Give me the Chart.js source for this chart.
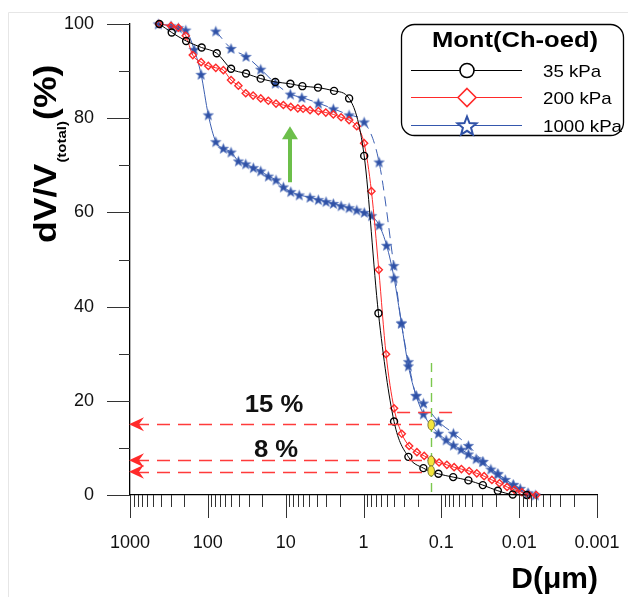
<!DOCTYPE html>
<html>
<head>
<meta charset="utf-8">
<title>Mont(Ch-oed)</title>
<script src="https://cdn.jsdelivr.net/npm/chart.js@4.4.1/dist/chart.umd.min.js"></script>
<style>
    html, body { margin: 0; padding: 0; background: #fff; }
    #wrap { width: 628px; height: 597px; }
</style>
</head>
<body>
<div id="wrap"><canvas id="poreChart" width="628" height="597"></canvas></div>
<script>
// pore diameter D (um) against cumulative dV/V(total) (%)
const d35 = [420, 291, 190, 120, 76.8, 50.3, 32.3, 20.9, 13.6, 8.7, 6.1, 3.84, 2.39, 1.53, 0.98, 0.643, 0.405, 0.265, 0.170, 0.109, 0.0705, 0.0449, 0.0293, 0.0188, 0.0121, 0.0080];
const v35 = [100, 98.2, 96.4, 95.0, 93.8, 90.5, 89.5, 88.4, 87.7, 87.3, 86.8, 86.5, 85.8, 84.2, 72.0, 38.6, 15.6, 8.1, 5.7, 4.5, 3.8, 3.1, 2.1, 0.9, 0.1, 0];

const d200 = [424, 297, 239, 192, 156, 122, 98.6, 79, 63.2, 50.3, 40.5, 32.6, 26.2, 20.9, 16.7, 13.3, 10.7, 8.6, 6.98, 5.97, 4.86, 3.80, 3.05, 2.44, 1.94, 1.53, 1.22, 0.982, 0.791, 0.636, 0.513, 0.405, 0.322, 0.259, 0.206, 0.166, 0.132, 0.107, 0.0849, 0.0685, 0.0552, 0.0439, 0.035, 0.0282, 0.0224, 0.0179, 0.0143, 0.0115, 0.00923, 0.00744, 0.00604];
const v200 = [100, 99.6, 99.2, 97.5, 93.4, 91.9, 91.1, 90.7, 90.2, 88.1, 86.9, 85.3, 84.8, 84.2, 83.7, 83.1, 82.8, 82.4, 82.1, 82.0, 81.7, 81.5, 81.2, 80.8, 80.2, 79.6, 78.3, 74.7, 64.5, 47.8, 29.9, 18.4, 13.0, 10.4, 9.1, 8.3, 7.4, 6.9, 6.4, 5.9, 5.5, 5.1, 4.6, 4.0, 3.2, 2.5, 1.7, 1.1, 0.6, 0, 0];

const d1000 = [433, 297, 239, 192, 150, 122, 98.6, 79, 63.2, 50.3, 40.5, 32.6, 26.0, 20.9, 16.7, 13.3, 10.7, 8.6, 6.7, 4.86, 3.80, 3.03, 2.44, 1.94, 1.53, 1.22, 0.977, 0.787, 0.631, 0.505, 0.405, 0.326, 0.265, 0.211, 0.170, 0.109, 0.0867, 0.070, 0.0557, 0.0449, 0.0357, 0.0293, 0.0231, 0.0188, 0.0151, 0.0119, 0.0097, 0.0077, 0.0062];
const v1000 = [100, 99.6, 99.2, 98.7, 94.6, 89.3, 80.7, 75.0, 73.6, 72.8, 70.9, 70.3, 69.5, 68.8, 67.7, 66.9, 65.4, 64.4, 63.7, 63.2, 62.7, 62.3, 61.9, 61.4, 61.0, 60.5, 60.0, 59.3, 57.3, 53.0, 46.1, 36.5, 27.4, 21.1, 17.2, 13.1, 11.7, 10.6, 9.7, 8.7, 7.7, 7.1, 5.5, 4.5, 3.3, 2.2, 1.4, 0.4, 0];

// second (dashed) 1000 kPa branch
const d1000b = [79, 50.3, 32.3, 20.9, 13.6, 8.7, 6.2, 3.80, 2.44, 1.53, 0.98, 0.631, 0.408, 0.326, 0.265, 0.211, 0.170, 0.109, 0.070, 0.0449, 0.0293, 0.0188, 0.0119, 0.0077];
const v1000b = [98.5, 94.8, 93.1, 90.4, 87.4, 85.1, 84.4, 83.2, 82.0, 80.7, 79.2, 70.7, 48.7, 36.5, 28.3, 21.1, 19.5, 15.6, 13.1, 10.5, 7.1, 4.5, 2.2, 0.4];

const xTicks = [1000, 100, 10, 1, 0.1, 0.01, 0.001];
const yTicks = [0, 20, 40, 60, 80, 100];
const seriesNames = ['35 kPa', '200 kPa', '1000 kPa'];
const legendTitle = 'Mont(Ch-oed)';

// annotation values, in data units
const arrowLevels = [15, 7.4, 4.95];
const arrowEndD = 0.145;
const markD = 0.135;
const markLevels = [14.9, 7.2, 5.1];
const cutLine = { from: 0.37, to: 0.06, level: 17.7 };
const greenCol = { d: 0.135, from: 28, to: 0 };
const greenArrow = { d: 8.8, from: 66.4, to: 78.3 };
const pctNotes = [{ text: '15 %', d: 14.1, v: 17.6 }, { text: '8 %', d: 13.3, v: 8.1 }];

const FONT = '"Liberation Sans", Arial, Helvetica, sans-serif';
const BLUE = '#2f51a6';
const RED = '#ff2a2a';

function starPath(g, cx, cy, R, r) {
    g.beginPath();
    for (let i = 0; i < 10; i++) {
        const a = -Math.PI / 2 + i * Math.PI / 5;
        const rad = i % 2 ? r : R;
        const px = cx + rad * Math.cos(a), py = cy + rad * Math.sin(a);
        i ? g.lineTo(px, py) : g.moveTo(px, py);
    }
    g.closePath();
}

function starImage(R, r, fill) {
    const size = Math.ceil(R * 2 + 2);
    const c = document.createElement('canvas');
    c.width = size; c.height = size;
    const g = c.getContext('2d');
    starPath(g, size / 2, size / 2 + R * 0.1, R, r);
    g.fillStyle = fill;
    g.fill();
    g.lineWidth = 0.6;
    g.strokeStyle = '#5a78c0';
    g.stroke();
    return c;
}

const toPts = (ds, vs) => ds.map((d, i) => ({ x: d, y: vs[i] }));

function roundBox(ctx, x, y, w, h, r) {
    ctx.beginPath();
    ctx.moveTo(x + r, y);
    ctx.arcTo(x + w, y, x + w, y + h, r);
    ctx.arcTo(x + w, y + h, x, y + h, r);
    ctx.arcTo(x, y + h, x, y, r);
    ctx.arcTo(x, y, x + w, y, r);
    ctx.closePath();
}

// text that is a little wider than the installed Arial metrics
function wideText(ctx, text, x, y, sx, align) {
    ctx.save();
    ctx.translate(x, y);
    ctx.scale(sx, 1);
    ctx.textAlign = align;
    ctx.fillText(text, 0, 0);
    ctx.restore();
}

function drawAxisTicks(chart) {
    const { ctx, chartArea, scales: { x, y } } = chart;
    ctx.save();
    ctx.strokeStyle = '#333';
    ctx.lineWidth = 1;
    ctx.beginPath();
    for (let e = -3; e <= 3; e++) {
        const px = Math.round(x.getPixelForValue(Math.pow(10, e))) + 0.5;
        ctx.moveTo(px, chartArea.bottom); ctx.lineTo(px, chartArea.bottom + 23);
        if (e === 3) continue;
        for (let k = 2; k <= 9; k++) {
            const pm = Math.round(x.getPixelForValue(k * Math.pow(10, e))) + 0.5;
            ctx.moveTo(pm, chartArea.bottom); ctx.lineTo(pm, chartArea.bottom + 12);
        }
    }
    yTicks.forEach((v, i) => {
        const py = Math.round(y.getPixelForValue(v)) + 0.5;
        ctx.moveTo(chartArea.left - 23, py); ctx.lineTo(chartArea.left, py);
        if (i < yTicks.length - 1) {
            const pm = Math.round(y.getPixelForValue((v + yTicks[i + 1]) / 2)) + 0.5;
            ctx.moveTo(chartArea.left - 11, pm); ctx.lineTo(chartArea.left, pm);
        }
    });
    ctx.stroke();
    ctx.restore();
}

function drawNotes(chart) {
    const { ctx, chartArea, scales: { x, y } } = chart;
    const left = chartArea.left;
    ctx.save();

    // red leaders back to the axis
    ctx.strokeStyle = '#ff3b3b';
    ctx.lineWidth = 1.3;
    ctx.setLineDash([13, 8]);
    ctx.beginPath();
    arrowLevels.forEach(v => {
        const py = Math.round(y.getPixelForValue(v)) + 0.5;
        ctx.moveTo(left + 6, py);
        ctx.lineTo(x.getPixelForValue(arrowEndD), py);
    });
    const cy = Math.round(y.getPixelForValue(cutLine.level)) + 0.5;
    ctx.moveTo(x.getPixelForValue(cutLine.from), cy);
    ctx.lineTo(x.getPixelForValue(cutLine.to), cy);
    ctx.stroke();
    ctx.setLineDash([]);
    ctx.fillStyle = RED;
    arrowLevels.forEach(v => {
        const py = y.getPixelForValue(v);
        ctx.beginPath();
        ctx.moveTo(left - 1, py);
        ctx.lineTo(left + 14, py - 7);
        ctx.lineTo(left + 9, py);
        ctx.lineTo(left + 14, py + 7);
        ctx.closePath();
        ctx.fill();
    });

    // green dashed marker line
    ctx.strokeStyle = '#7cc84e';
    ctx.lineWidth = 1.4;
    ctx.setLineDash([9, 6]);
    const gx = Math.round(x.getPixelForValue(greenCol.d)) + 0.5;
    ctx.beginPath();
    ctx.moveTo(gx, y.getPixelForValue(greenCol.from));
    ctx.lineTo(gx, y.getPixelForValue(greenCol.to));
    ctx.stroke();
    ctx.setLineDash([]);

    // yellow marks
    ctx.fillStyle = '#f4e53c';
    ctx.strokeStyle = '#5c5a2a';
    ctx.lineWidth = 0.8;
    markLevels.forEach(v => {
        ctx.beginPath();
        ctx.ellipse(x.getPixelForValue(markD), y.getPixelForValue(v), 3.3, 5.2, 0, 0, Math.PI * 2);
        ctx.fill();
        ctx.stroke();
    });

    // green arrow
    const ax = x.getPixelForValue(greenArrow.d);
    const tip = y.getPixelForValue(greenArrow.to);
    ctx.strokeStyle = '#6cbf4a';
    ctx.fillStyle = '#6cbf4a';
    ctx.lineWidth = 4;
    ctx.beginPath();
    ctx.moveTo(ax, y.getPixelForValue(greenArrow.from));
    ctx.lineTo(ax, tip + 10);
    ctx.stroke();
    ctx.beginPath();
    ctx.moveTo(ax, tip);
    ctx.lineTo(ax + 8, tip + 13);
    ctx.lineTo(ax - 8, tip + 13);
    ctx.closePath();
    ctx.fill();

    ctx.fillStyle = '#111';
    ctx.font = `bold 24px ${FONT}`;
    pctNotes.forEach(n => wideText(ctx, n.text, x.getPixelForValue(n.d), y.getPixelForValue(n.v), 1.07, 'center'));
    ctx.restore();
}

function drawTitles(ctx) {
    ctx.save();
    ctx.fillStyle = '#000';
    ctx.textAlign = 'left';
    ctx.textBaseline = 'alphabetic';
    ctx.translate(56, 243);
    ctx.rotate(-Math.PI / 2);
    ctx.scale(1.15, 1);
    ctx.font = `bold 31px ${FONT}`;
    ctx.fillText('dV/V', 0, 0);
    let w = ctx.measureText('dV/V').width + 1;
    ctx.font = `bold 13px ${FONT}`;
    ctx.fillText('(total)', w, 10);
    w += ctx.measureText('(total)').width + 1;
    ctx.font = `bold 31px ${FONT}`;
    ctx.fillText('(%)', w, 0);
    ctx.restore();

    ctx.save();
    ctx.fillStyle = '#000';
    ctx.font = `bold 30px ${FONT}`;
    ctx.textAlign = 'right';
    ctx.fillText('D(\u03bcm)', 598, 588);
    ctx.restore();
}

function drawLegend(ctx, markers) {
    ctx.save();
    ctx.fillStyle = '#fff';
    ctx.strokeStyle = '#000';
    ctx.lineWidth = 1.3;
    roundBox(ctx, 401.5, 24.5, 222, 111, 13);
    ctx.fill();
    ctx.stroke();

    ctx.fillStyle = '#000';
    ctx.font = `bold 21.5px ${FONT}`;
    wideText(ctx, legendTitle, 515, 47, 1.19, 'center');

    const rows = [70, 97, 125];
    const cols = ['#000', RED, '#3557ad'];
    rows.forEach((ry, i) => {
        ctx.strokeStyle = cols[i];
        ctx.lineWidth = 1;
        ctx.beginPath();
        ctx.moveTo(411, ry + 0.5);
        ctx.lineTo(522, ry + 0.5);
        ctx.stroke();
        markers[i](ctx, 467, ry + 0.5);
        ctx.fillStyle = '#000';
        ctx.font = `17px ${FONT}`;
        wideText(ctx, seriesNames[i], 543, ry + 6.5, 1.1, 'left');
    });
    ctx.restore();
}

const legendMarkers = [
    (ctx, mx, my) => {
        ctx.beginPath(); ctx.arc(mx, my, 7, 0, Math.PI * 2);
        ctx.fillStyle = '#fff'; ctx.fill();
        ctx.strokeStyle = '#000'; ctx.lineWidth = 1.6; ctx.stroke();
    },
    (ctx, mx, my) => {
        ctx.beginPath();
        ctx.moveTo(mx, my - 9); ctx.lineTo(mx + 9, my); ctx.lineTo(mx, my + 9); ctx.lineTo(mx - 9, my);
        ctx.closePath();
        ctx.fillStyle = '#fff'; ctx.fill();
        ctx.strokeStyle = RED; ctx.lineWidth = 1.6; ctx.stroke();
    },
    (ctx, mx, my) => {
        starPath(ctx, mx, my + 1, 10, 4.3);
        ctx.fillStyle = '#fff'; ctx.fill();
        ctx.strokeStyle = BLUE; ctx.lineWidth = 2; ctx.stroke();
    }
];

const decorations = {
    id: 'decorations',
    beforeDraw(chart) {
        const ctx = chart.ctx;
        ctx.save();
        ctx.fillStyle = '#fff';
        ctx.fillRect(0, 0, chart.width, chart.height);
        ctx.strokeStyle = '#e6e6e6';
        ctx.lineWidth = 1;
        ctx.beginPath();
        ctx.moveTo(8.5, chart.height); ctx.lineTo(8.5, 12.5); ctx.lineTo(chart.width, 12.5);
        ctx.stroke();
        ctx.restore();
    },
    afterDatasetsDraw(chart) {
        drawNotes(chart);
    },
    afterDraw(chart) {
        drawAxisTicks(chart);
        drawTitles(chart.ctx);
        drawLegend(chart.ctx, legendMarkers);
    }
};

const starPt = starImage(5.4, 2.3, BLUE);
const tickFont = { family: FONT, size: 18 };
const clear = 'rgba(0,0,0,0)';

new Chart(document.getElementById('poreChart'), {
    type: 'line',
    data: {
        datasets: [{
            label: seriesNames[0],
            data: toPts(d35, v35),
            borderColor: '#000',
            borderWidth: 1,
            pointStyle: 'circle',
            pointRadius: 3.5,
            pointBorderWidth: 1.4,
            pointBorderColor: '#000',
            pointBackgroundColor: clear,
            cubicInterpolationMode: 'monotone',
            clip: false
        }, {
            label: seriesNames[1],
            data: toPts(d200, v200),
            borderColor: RED,
            borderWidth: 1,
            pointStyle: 'rectRot',
            pointRadius: 3.6,
            pointBorderWidth: 1.4,
            pointBorderColor: RED,
            pointBackgroundColor: clear,
            cubicInterpolationMode: 'monotone',
            clip: false
        }, {
            label: seriesNames[2],
            data: toPts(d1000, v1000),
            borderColor: '#3c5fb2',
            borderWidth: 1,
            pointStyle: starPt,
            cubicInterpolationMode: 'monotone',
            clip: false
        }, {
            label: seriesNames[2] + ' (b)',
            data: toPts(d1000b, v1000b),
            borderColor: '#3c5fb2',
            borderWidth: 1,
            borderDash: [10, 6],
            pointStyle: starPt,
            cubicInterpolationMode: 'monotone',
            clip: false
        }]
    },
    options: {
        responsive: false,
        animation: false,
        devicePixelRatio: 1,
        layout: { padding: { top: 24, right: 31, left: 0, bottom: 0 } },
        plugins: { legend: { display: false }, tooltip: { enabled: false } },
        scales: {
            x: {
                type: 'logarithmic',
                reverse: true,
                min: 0.001,
                max: 1000,
                afterBuildTicks: s => { s.ticks = xTicks.map(v => ({ value: v })); },
                afterFit: s => { s.height = 102; },
                ticks: { autoSkip: false, maxRotation: 0, padding: 0, color: '#111', font: tickFont, callback: v => String(v) },
                // transparent tick marks only push the labels down; the visible ticks are drawn by the plugin
                grid: { display: true, drawOnChartArea: false, drawTicks: true, tickLength: 37, tickColor: clear },
                border: { display: true, color: '#000', width: 1.3 }
            },
            y: {
                min: 0,
                max: 100,
                afterBuildTicks: s => { s.ticks = yTicks.map(v => ({ value: v })); },
                afterFit: s => { s.width = 130; },
                ticks: { padding: 0, color: '#111', font: tickFont, callback: v => String(v) },
                grid: { display: true, drawOnChartArea: false, drawTicks: true, tickLength: 36, tickColor: clear },
                border: { display: true, color: '#000', width: 1.3 }
            }
        }
    },
    plugins: [decorations]
});
</script>
</body>
</html>
